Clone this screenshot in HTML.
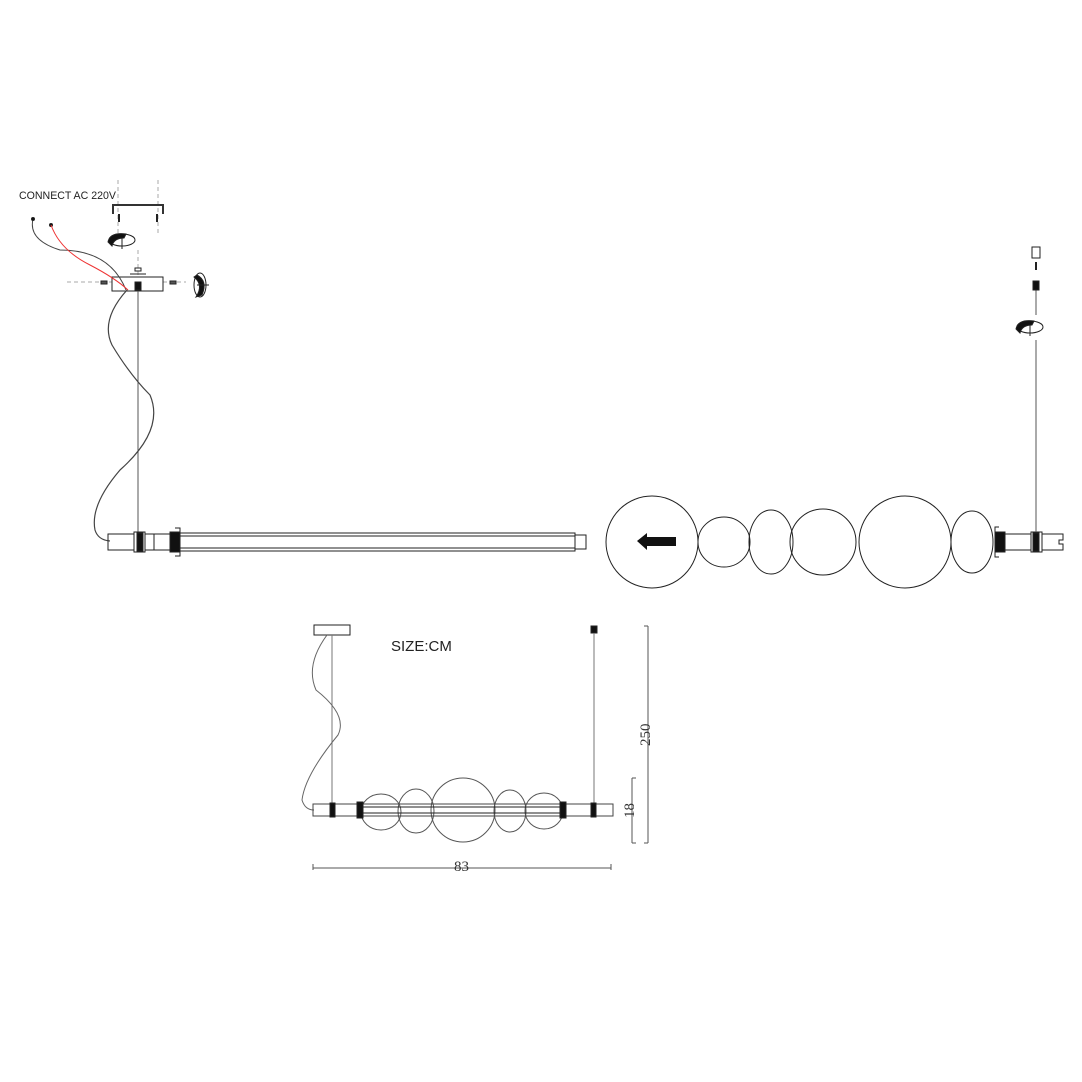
<!DOCTYPE html>
<html><head><meta charset="utf-8"><style>
html,body{margin:0;padding:0;background:#fff;width:1082px;height:1082px;overflow:hidden}
svg{display:block}
</style></head><body>
<svg width="1082" height="1082" viewBox="0 0 1082 1082" xmlns="http://www.w3.org/2000/svg" fill="none" stroke="#222" stroke-width="1">
<rect width="1082" height="1082" fill="#fff" stroke="none"/>
<text x="19" y="199" font-family="Liberation Sans, sans-serif" font-size="10.6" fill="#222" stroke="none">CONNECT AC 220V</text>
<g stroke="#aaa" stroke-dasharray="4,3">
<line x1="118" y1="180" x2="118" y2="235"/><line x1="158" y1="180" x2="158" y2="235"/>
<line x1="67" y1="282" x2="112" y2="282"/><line x1="163" y1="282" x2="186" y2="282"/>
<line x1="138" y1="250" x2="138" y2="277"/>
</g>
<path d="M113 214 V205 H163 V214" stroke="#333" stroke-width="2"/>
<line x1="119" y1="214" x2="119" y2="222" stroke-width="2"/><line x1="157" y1="214" x2="157" y2="222" stroke-width="2"/>
<g transform="translate(122,240)"><ellipse cx="0" cy="0" rx="13" ry="6"/><path d="M-14 2 Q-12 -8 4 -6 L2 -2 Q-8 -2 -10 6 Z" fill="#111"/><line x1="0" y1="-2" x2="0" y2="9"/></g>
<rect x="112" y="277" width="51" height="14"/>
<rect x="135" y="268" width="6" height="3"/><line x1="130" y1="274" x2="146" y2="274"/>
<rect x="135" y="282" width="6" height="8" fill="#111"/>
<rect x="101" y="281" width="6" height="3" fill="#555"/><rect x="170" y="281" width="6" height="3" fill="#555"/>
<g transform="translate(200,285)"><ellipse cx="0" cy="0" rx="6" ry="12"/><path d="M-3 -10 Q8 -4 2 10 L-4 12 Q4 0 -6 -8 Z" fill="#111"/><line x1="-3" y1="0" x2="9" y2="0"/></g>
<path d="M33 219 Q28 240 60 250 Q110 250 126 290" stroke="#444"/>
<circle cx="33" cy="219" r="1.5" fill="#111"/><circle cx="51" cy="225" r="1.5" fill="#111"/>
<path d="M51 225 Q60 250 90 265 Q115 278 128 290" stroke="#e33"/>
<line x1="138" y1="291" x2="138" y2="532" stroke="#555"/>
<path d="M127 290 Q100 320 112 345 Q130 375 150 395 Q165 430 120 470 Q90 505 95 530 Q98 540 110 541" stroke="#444" stroke-width="1.2"/>
<rect x="108" y="534" width="30" height="16"/>
<rect x="134" y="532" width="11" height="20" fill="#fff"/><rect x="137" y="533" width="6" height="18" fill="#111"/>
<rect x="145" y="534" width="25" height="16"/>
<line x1="154" y1="534" x2="154" y2="550"/>
<path d="M175 528 H180 V556 H175" /><rect x="170" y="532" width="10" height="20" fill="#111"/>
<rect x="180" y="533" width="395" height="18"/>
<line x1="180" y1="536" x2="575" y2="536"/><line x1="180" y1="548" x2="575" y2="548"/>
<rect x="575" y="535" width="11" height="14"/>
<circle cx="652" cy="542" r="46"/>
<path d="M637 541 L647 533 V537 H676 V546 H647 V550 Z" fill="#111" stroke="none"/>
<ellipse cx="724" cy="542" rx="26" ry="25"/>
<ellipse cx="771" cy="542" rx="22" ry="32"/>
<ellipse cx="823" cy="542" rx="33" ry="33"/>
<circle cx="905" cy="542" r="46"/>
<ellipse cx="972" cy="542" rx="21" ry="31"/>
<path d="M999 527 H995 V557 H999"/>
<rect x="995" y="532" width="10" height="20" fill="#111"/>
<rect x="1005" y="534" width="26" height="16"/>
<rect x="1031" y="532" width="11" height="20" fill="#fff"/><rect x="1033" y="533" width="6" height="18" fill="#111"/>
<path d="M1042 534 H1063 V540 H1059 V544 H1063 V550 H1042 Z"/>
<line x1="1036" y1="340" x2="1036" y2="532" stroke="#555"/>
<line x1="1036" y1="290" x2="1036" y2="315" stroke="#555"/>
<rect x="1032" y="247" width="8" height="11"/>
<line x1="1036" y1="262" x2="1036" y2="270" stroke-width="2"/>
<rect x="1033" y="281" width="6" height="9" fill="#111"/>
<g transform="translate(1030,327)"><ellipse cx="0" cy="0" rx="13" ry="6"/><path d="M-14 2 Q-12 -8 4 -6 L2 -2 Q-8 -2 -10 6 Z" fill="#111"/><line x1="0" y1="-2" x2="0" y2="9"/></g>
<text x="391" y="651" font-family="Liberation Sans, sans-serif" font-size="15" fill="#222" stroke="none">SIZE:CM</text>
<rect x="314" y="625" width="36" height="10"/>
<line x1="332" y1="635" x2="332" y2="805" stroke="#777"/>
<path d="M327 635 Q305 665 316 690 Q348 715 338 735 Q305 775 302 800 Q305 810 314 810" stroke="#666"/>
<rect x="591" y="626" width="6" height="7" fill="#111"/>
<line x1="594" y1="633" x2="594" y2="805" stroke="#777"/>
<g stroke="#555">
<ellipse cx="381" cy="812" rx="20" ry="18"/><ellipse cx="416" cy="811" rx="18" ry="22"/>
<circle cx="463" cy="810" r="32"/><ellipse cx="510" cy="811" rx="16" ry="21"/><ellipse cx="544" cy="811" rx="19" ry="18"/>
</g>
<rect x="313" y="804" width="300" height="12" stroke="#444"/>
<rect x="330" y="803" width="5" height="14" fill="#111"/>
<rect x="357" y="802" width="6" height="16" fill="#111"/>
<line x1="363" y1="807" x2="560" y2="807"/><line x1="363" y1="813" x2="560" y2="813"/>
<rect x="560" y="802" width="6" height="16" fill="#111"/>
<rect x="591" y="803" width="5" height="14" fill="#111"/>
<g stroke="#555">
<line x1="648" y1="626" x2="648" y2="843"/><line x1="644" y1="626" x2="648" y2="626"/><line x1="644" y1="843" x2="648" y2="843"/>
<line x1="632" y1="778" x2="632" y2="843"/><line x1="632" y1="778" x2="636" y2="778"/><line x1="632" y1="843" x2="636" y2="843"/>
<line x1="313" y1="868" x2="611" y2="868"/><line x1="313" y1="864" x2="313" y2="870"/><line x1="611" y1="864" x2="611" y2="870"/>
</g>
<text transform="translate(650,746) rotate(-90)" font-family="Liberation Serif, serif" font-size="15" fill="#333" stroke="none">250</text>
<text transform="translate(634,818) rotate(-90)" font-family="Liberation Serif, serif" font-size="15" fill="#333" stroke="none">18</text>
<text x="454" y="871" font-family="Liberation Serif, serif" font-size="15" fill="#333" stroke="none">83</text>
</svg>
</body></html>
